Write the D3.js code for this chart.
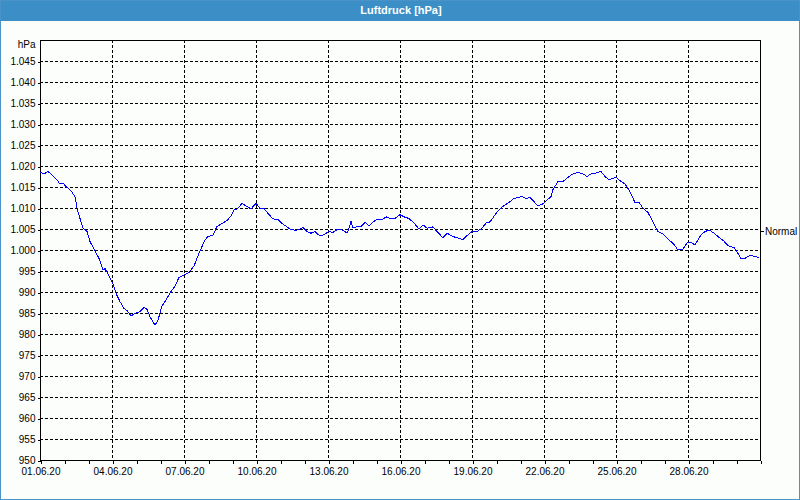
<!DOCTYPE html>
<html>
<head>
<meta charset="utf-8">
<script src="https://cdn.jsdelivr.net/npm/d3@7"></script>
<style>
  html, body { margin: 0; padding: 0; background: #fcfefc; }
  svg { display: block; font-family: "Liberation Sans", Arial, sans-serif; }
</style>
</head>
<body>
<div id="chart"></div>
<script>

// hours since 01.06.20 00:00 and air pressure in hPa
var hours = [0, 4, 8, 12, 17, 20, 23, 27, 31, 35, 37, 40, 43, 47, 50, 55, 59, 63, 65, 69,
  73, 76, 80, 84, 87, 91, 95, 100, 104, 107, 110, 115, 118, 122, 126, 131, 135, 139, 144, 149,
  154, 159, 165, 168, 173, 177, 182, 187, 191, 194, 197, 202, 206, 211, 216, 220, 224, 228, 233, 238,
  242, 247, 250, 255, 259, 263, 267, 271, 275, 280, 284, 289, 293, 298, 303, 307, 309, 311, 313, 317,
  321, 325, 329, 336, 342, 346, 351, 355, 360, 364, 369, 374, 379, 383, 387, 393, 397, 403, 407, 412,
  417, 423, 427, 432, 437, 442, 446, 450, 457, 463, 470, 474, 482, 486, 490, 494, 498, 503, 507, 511,
  513, 518, 523, 527, 532, 537, 542, 547, 552, 556, 561, 565, 569, 576, 580, 585, 589, 595, 599, 603,
  608, 613, 618, 623, 629, 633, 638, 643, 647, 652, 655, 660, 663, 669, 674, 679, 684, 688, 694, 697,
  701, 705, 709, 713, 717, 719];

var pressure = [1018.6, 1018.1, 1018.7, 1017.9, 1016.7, 1015.7, 1015.9, 1014.9, 1014.1, 1012.7, 1010.0, 1007.5, 1005.2, 1004.4, 1002.0, 999.8, 998.0, 995.2, 995.6, 993.8,
  992.0, 989.7, 987.7, 986.1, 985.6, 984.3, 984.9, 985.3, 986.3, 985.9, 984.1, 982.1, 983.3, 986.7, 988.1, 990.1, 991.4, 993.5, 994.0, 994.6,
  996.2, 999.2, 1002.4, 1003.2, 1003.6, 1005.6, 1006.3, 1007.0, 1008.1, 1009.5, 1009.7, 1011.1, 1010.5, 1009.8, 1011.1, 1009.9, 1009.9, 1008.7, 1007.4, 1007.3,
  1006.3, 1005.5, 1005.0, 1004.7, 1004.8, 1005.4, 1004.4, 1004.0, 1004.4, 1003.3, 1003.7, 1004.4, 1004.2, 1005.0, 1004.7, 1004.0, 1005.2, 1006.8, 1005.2, 1005.6,
  1005.6, 1006.6, 1005.8, 1007.2, 1007.2, 1007.9, 1007.4, 1007.5, 1008.4, 1007.9, 1007.5, 1006.4, 1005.0, 1006.0, 1005.2, 1005.5, 1004.4, 1002.9, 1004.0, 1003.3,
  1002.9, 1002.5, 1003.4, 1004.4, 1004.4, 1005.2, 1006.4, 1006.7, 1009.0, 1010.4, 1011.5, 1012.3, 1012.7, 1012.3, 1012.5, 1011.5, 1010.5, 1011.0, 1011.9, 1012.7,
  1014.4, 1016.3, 1016.3, 1017.1, 1018.0, 1018.4, 1018.3, 1017.5, 1018.3, 1018.3, 1018.7, 1017.5, 1016.7, 1017.3, 1016.5, 1015.7, 1014.3, 1011.3, 1011.3, 1010.0,
  1008.9, 1006.7, 1004.4, 1003.8, 1002.4, 1001.6, 1000.0, 1000.2, 1001.7, 1001.7, 1001.2, 1003.2, 1004.1, 1004.8, 1004.0, 1003.0, 1002.1, 1001.0, 1000.6, 999.6,
  997.9, 998.0, 998.6, 998.6, 998.3, 998.3];

var dateTicks = ["01.06.20", "04.06.20", "07.06.20", "10.06.20", "13.06.20",
  "16.06.20", "19.06.20", "22.06.20", "25.06.20", "28.06.20"];
var pressureTicks = [950, 955, 960, 965, 970, 975, 980, 985, 990, 995, 1000,
  1005, 1010, 1015, 1020, 1025, 1030, 1035, 1040, 1045, 1050];
var normalValue = 1004.5;

var W = 800, H = 500;
var pLeft = 40, pRight = 760, pTop = 40, pBottom = 460;

var parseDay = d3.timeParse( "%d.%m.%y" );
var start = parseDay( "01.06.20" ), end = parseDay( "01.07.20" );

var de = d3.formatLocale({ decimal: ",", thousands: ".", grouping: [3], currency: ["", " €"] });
var fmt = de.format( "," );

var x = d3.scaleTime().domain([start, end]).range([pLeft, pRight]);
var y = d3.scaleLinear().domain([950, 1050]).range([pBottom, pTop]);

var svg = d3.select( "#chart" ).append( "svg" ).attr( "width", W ).attr( "height", H );

svg.append( "rect" ).attr( "width", W ).attr( "height", H ).attr( "fill", "#fcfefc" );

// title bar
svg.append( "rect" ).attr( "x", 0 ).attr( "y", 0 ).attr( "width", W ).attr( "height", 21 )
  .attr( "fill", "#3c8fc6" );
svg.append( "text" ).attr( "x", 401 ).attr( "y", 14 )
  .attr( "text-anchor", "middle" ).attr( "font-size", "11px" ).attr( "font-weight", "bold" )
  .attr( "fill", "#ffffff" ).text( "Luftdruck [hPa]" );

// outer frame
svg.append( "rect" ).attr( "x", 0.5 ).attr( "y", 0.5 ).attr( "width", W - 1 ).attr( "height", H - 1 )
  .attr( "fill", "none" ).attr( "stroke", "#4a93c9" );

var grid = svg.append( "g" ).attr( "stroke", "#000" ).attr( "stroke-dasharray", "3,2" )
  .attr( "shape-rendering", "crispEdges" );

// horizontal grid
grid.selectAll( "line.h" ).data( pressureTicks.slice( 1, -1 ) ).enter().append( "line" )
  .attr( "x1", pLeft ).attr( "x2", pRight )
  .attr( "y1", function( d ) { return y( d ) + 0.5; } )
  .attr( "y2", function( d ) { return y( d ) + 0.5; } );

// vertical grid
grid.selectAll( "line.v" ).data( dateTicks.slice( 1 ) ).enter().append( "line" )
  .attr( "y1", pTop ).attr( "y2", pBottom )
  .attr( "x1", function( d ) { return x( parseDay( d ) ) + 0.5; } )
  .attr( "x2", function( d ) { return x( parseDay( d ) ) + 0.5; } );

// y axis
var yAxis = d3.axisLeft( y ).tickValues( pressureTicks ).tickSize( 3 ).tickPadding( 2 )
  .tickFormat( function( d ) { return d == 1050 ? "hPa" : fmt( d ); } );
var gy = svg.append( "g" ).attr( "transform", "translate(" + (pLeft + 0.5) + ",0.5)" ).call( yAxis );

// x axis, day ticks, labels every 3 days
var xAxis = d3.axisBottom( x ).ticks( d3.timeDay.every( 1 ) ).tickSize( 3 ).tickPadding( 4 )
  .tickFormat( function( d ) {
    var s = d3.timeFormat( "%d.%m.%y" )( d );
    return dateTicks.indexOf( s ) >= 0 ? s : "";
  });
var gx = svg.append( "g" ).attr( "transform", "translate(0.5," + (pBottom + 0.5) + ")" ).call( xAxis );

[gx, gy].forEach( function( g ) {
  g.select( ".domain" ).remove();
  g.selectAll( "line" ).attr( "stroke", "#000" ).attr( "shape-rendering", "crispEdges" );
  g.selectAll( "text" ).attr( "font-size", "10px" ).attr( "fill", "#000" )
    .attr( "font-family", "Liberation Sans, Arial, sans-serif" );
});
var unitTick = gy.selectAll( ".tick" ).filter( function( d ) { return d == 1050; } );
unitTick.select( "line" ).remove();
unitTick.select( "text" ).attr( "y", 4 );

// plot frame
svg.append( "rect" ).attr( "x", pLeft + 0.5 ).attr( "y", pTop + 0.5 )
  .attr( "width", pRight - pLeft ).attr( "height", pBottom - pTop )
  .attr( "fill", "none" ).attr( "stroke", "#000" ).attr( "shape-rendering", "crispEdges" );

// normal marker on the right
svg.append( "line" ).attr( "x1", pRight ).attr( "x2", pRight + 4 )
  .attr( "y1", Math.round( y( normalValue ) ) + 0.5 ).attr( "y2", Math.round( y( normalValue ) ) + 0.5 )
  .attr( "stroke", "#000" ).attr( "shape-rendering", "crispEdges" );
svg.append( "text" ).attr( "x", pRight + 5 ).attr( "y", y( normalValue ) + 4 )
  .attr( "font-size", "10px" ).attr( "fill", "#000" ).text( "Normal" );

// pressure line
var line = d3.line()
  .x( function( d, i ) { return x( d3.timeHour.offset( start, hours[i] ) ); } )
  .y( function( d ) { return y( d ); } );

svg.append( "path" ).attr( "d", line( pressure ) )
  .style( "fill", "none" ).style( "stroke", "#0000ff" ).style( "stroke-width", 1 )
  .attr( "shape-rendering", "crispEdges" );

</script>
</body>
</html>
